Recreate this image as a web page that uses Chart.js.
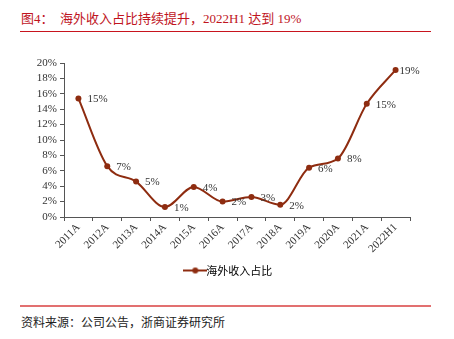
<!DOCTYPE html>
<html>
<head>
<meta charset="utf-8">
<script src="https://cdn.jsdelivr.net/npm/chart.js@4"></script>
<style>
  body { margin: 0; width: 454px; height: 339px; background: #fff; position: relative; overflow: hidden; }
  .title { position: absolute; left: 21px; top: 8px; font: 13px 'Liberation Serif', 'Noto Sans CJK SC', serif; color: #c0141e; white-space: nowrap; }
  .rule-top { position: absolute; left: 20px; top: 31px; width: 411px; height: 1px; background: #c8141e; }
  .rule-bottom { position: absolute; left: 20px; top: 305px; width: 411px; height: 2px; background: #e27070; }
  .source { position: absolute; left: 21px; top: 313px; font: 12px 'Noto Sans CJK SC', sans-serif; color: #222; white-space: nowrap; }
  #wrap { position: absolute; left: 0; top: 40px; width: 454px; height: 250px; }
</style>
</head>
<body>
<div class="title">图4：&nbsp;&nbsp;海外收入占比持续提升，2022H1 达到 19%</div>
<div class="rule-top"></div>
<div id="wrap"><canvas id="shareChart" width="454" height="250"></canvas></div>
<div class="rule-bottom"></div>
<div class="source">资料来源：公司公告，浙商证券研究所</div>

<script>
// 海外收入占比（%）
var years = ['2011A', '2012A', '2013A', '2014A', '2015A', '2016A', '2017A', '2018A', '2019A', '2020A', '2021A', '2022H1'];
var overseasShare = [15.4, 6.6, 4.6, 1.3, 3.9, 2.0, 2.6, 1.6, 6.4, 7.6, 14.7, 19.1];
var yTicks = [0, 2, 4, 6, 8, 10, 12, 14, 16, 18, 20];

var lineColor = '#8e2c10';
var serif = 'Liberation Serif';

// 图例：线段 + 圆点
function legendMarker() {
    var c = document.createElement('canvas');
    c.width = 24; c.height = 8;
    var g = c.getContext('2d');
    g.strokeStyle = lineColor;
    g.lineWidth = 2;
    g.beginPath(); g.moveTo(0, 4); g.lineTo(24, 4); g.stroke();
    g.fillStyle = lineColor;
    g.beginPath(); g.arc(12, 4, 3, 0, Math.PI * 2); g.fill();
    return c;
}

// 数据标签画在点的右侧
var valueLabels = {
    id: 'valueLabels',
    afterDatasetsDraw: function (chart) {
        var ctx = chart.ctx;
        var meta = chart.getDatasetMeta(0);
        ctx.save();
        ctx.font = '11px ' + serif;
        ctx.fillStyle = '#333';
        ctx.textAlign = 'left';
        ctx.textBaseline = 'middle';
        meta.data.forEach(function (pt, i) {
            var dx = i === meta.data.length - 1 ? 4 : 9;
            ctx.fillText(Math.round(overseasShare[i]) + '%', pt.x + dx, pt.y + 1);
        });
        ctx.restore();
    }
};

// 图例整体右移一点
var legendShift = {
    id: 'legendShift',
    afterLayout: function (chart) {
        chart.legend.left += 26;
        chart.legend.right += 26;
    }
};

var ctx = document.getElementById('shareChart').getContext('2d');
var shareChart = new Chart(ctx, {
    type: 'line',
    data: {
        labels: years,
        datasets: [{
            label: '海外收入占比',
            data: overseasShare,
            borderColor: lineColor,
            backgroundColor: lineColor,
            borderWidth: 2,
            pointRadius: 3,
            pointBackgroundColor: lineColor,
            pointBorderWidth: 0,
            tension: 0.4,
            cubicInterpolationMode: 'monotone'
        }]
    },
    options: {
        responsive: false,
        animation: false,
        layout: { padding: { left: 0, right: 44, top: 23, bottom: 4 } },
        plugins: {
            tooltip: { enabled: false },
            legend: {
                position: 'bottom',
                labels: {
                    usePointStyle: true,
                    color: '#222',
                    font: { family: 'Noto Sans CJK SC', size: 11 },
                    padding: 8,
                    generateLabels: function (chart) {
                        return [{
                            text: '海外收入占比',
                            pointStyle: legendMarker(),
                            fillStyle: lineColor,
                            strokeStyle: lineColor,
                            lineWidth: 0,
                            datasetIndex: 0
                        }];
                    }
                }
            }
        },
        scales: {
            x: {
                offset: true,
                grid: { display: true, offset: true, drawOnChartArea: false, drawTicks: true, tickLength: 4, color: '#555' },
                border: { color: '#555', width: 1 },
                ticks: {
                    maxRotation: 45, minRotation: 45, autoSkip: false,
                    color: '#333', padding: 0,
                    font: { family: serif, size: 11 }
                },
                afterFit: function (axis) { axis.height = 40; }
            },
            y: {
                min: 0, max: 20,
                afterBuildTicks: function (axis) { axis.ticks = yTicks.map(function (v) { return { value: v }; }); },
                grid: { drawOnChartArea: false, drawTicks: true, tickLength: 4, color: '#555' },
                border: { color: '#555', width: 1 },
                ticks: {
                    autoSkip: false,
                    color: '#333', padding: 3,
                    font: { family: serif, size: 11 },
                    callback: function (v) { return v + '%'; }
                },
                afterFit: function (axis) { axis.width = 64; }
            }
        }
    },
    plugins: [valueLabels, legendShift]
});
</script>
</body>
</html>
